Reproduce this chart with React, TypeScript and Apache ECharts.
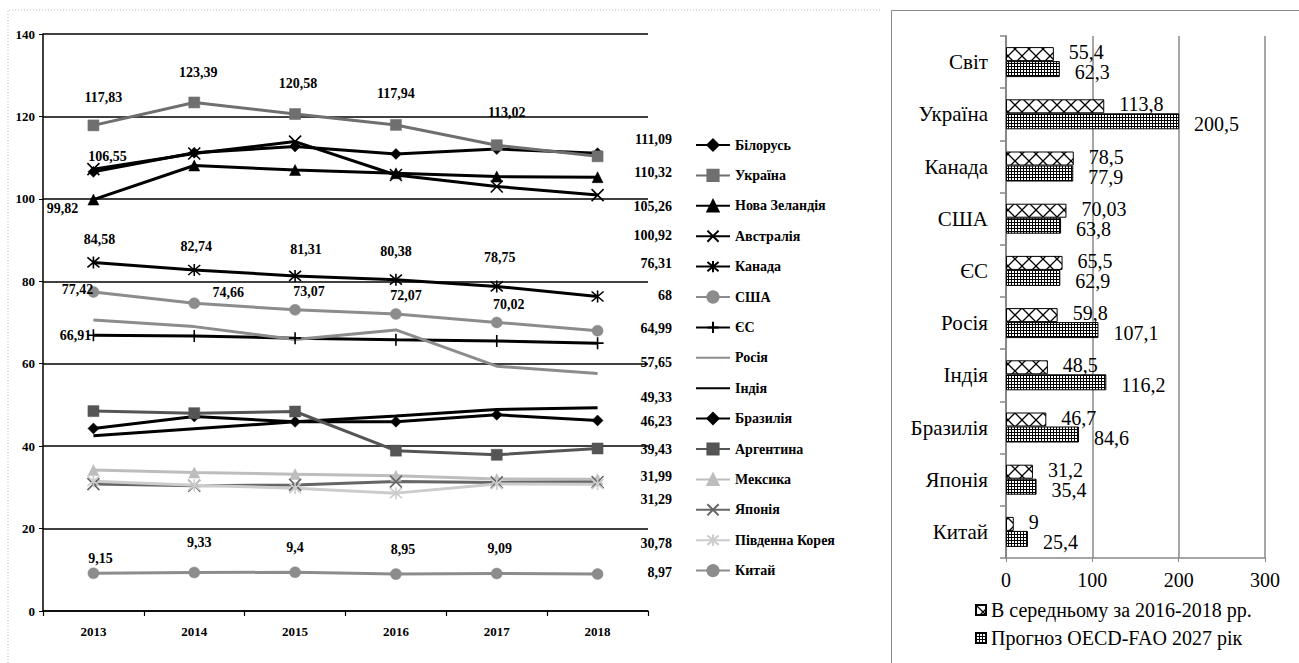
import React, { useEffect, useRef } from "react";
import * as echarts from "echarts";

// ---------- DATA ----------
const YEARS = ["2013", "2014", "2015", "2016", "2017", "2018"];

const BELARUS = [106.55, 111.2, 112.7, 110.9, 112.1, 111.09];
const UKRAINE = [117.83, 123.39, 120.58, 117.94, 113.02, 110.32];
const NEW_ZEALAND = [99.82, 108.1, 107.0, 106.2, 105.4, 105.26];
const AUSTRALIA = [107.2, 111.0, 113.9, 105.8, 103.0, 100.92];
const CANADA = [84.58, 82.74, 81.31, 80.38, 78.75, 76.31];
const USA = [77.42, 74.66, 73.07, 72.07, 70.02, 68];
const EU = [66.91, 66.7, 66.2, 65.8, 65.5, 64.99];
const RUSSIA = [70.6, 69.0, 65.9, 68.2, 59.4, 57.65];
const INDIA = [42.5, 44.2, 45.9, 47.3, 48.9, 49.33];
const BRAZIL = [44.3, 47.2, 45.9, 45.9, 47.6, 46.23];
const ARGENTINA = [48.5, 48.0, 48.4, 38.9, 37.9, 39.43];
const MEXICO = [34.2, 33.6, 33.2, 32.8, 32.0, 31.99];
const JAPAN = [30.8, 30.4, 30.6, 31.4, 31.2, 31.29];
const SOUTH_KOREA = [31.5, 30.5, 29.8, 28.6, 30.8, 30.78];
const CHINA = [9.15, 9.33, 9.4, 8.95, 9.09, 8.97];

const Y_TICKS = [0, 20, 40, 60, 80, 100, 120, 140];

const BAR_CATEGORIES = ["Світ", "Україна", "Канада", "США", "ЄС", "Росія", "Індія", "Бразилія", "Японія", "Китай"];
const AVG_2016_2018 = [55.4, 113.8, 78.5, 70.03, 65.5, 59.8, 48.5, 46.7, 31.2, 9];
const FORECAST_2027 = [62.3, 200.5, 77.9, 63.8, 62.9, 107.1, 116.2, 84.6, 35.4, 25.4];
const BAR_TICKS = [0, 100, 200, 300];

const BAR_NAME_1 = "В середньому за 2016-2018 рр.";
const BAR_NAME_2 = "Прогноз OECD-FAO 2027 рік";

// ---------- STYLES / LAYOUT ----------
const SERIF = "'Liberation Serif', 'Times New Roman', serif";
const P_X = "path://M0,0L10,10M10,0L0,10";
const P_AST = "path://M0,0L10,10M10,0L0,10M5,-1L5,11";
const P_PLUS = "path://M5,0L5,10M0,5L10,5";

type LS = { name: string; data: number[]; color: string; symbol: string; size: number; width: number; stroke?: boolean; labels?: Record<number, [number, number]> };

const LINES: LS[] = [
  { name: "Білорусь", data: BELARUS, color: "#000", symbol: "diamond", size: 11, width: 3, labels: { 0: [14, -15] } },
  { name: "Україна", data: UKRAINE, color: "#6f6f6f", symbol: "rect", size: 11, width: 3, labels: { 0: [10, -28], 1: [4, -30], 2: [3, -31], 3: [0, -31], 4: [10, -33] } },
  { name: "Нова Зеландія", data: NEW_ZEALAND, color: "#000", symbol: "triangle", size: 11, width: 3, labels: { 0: [-31, 9] } },
  { name: "Австралія", data: AUSTRALIA, color: "#000", symbol: P_X, size: 12, width: 3, stroke: true },
  { name: "Канада", data: CANADA, color: "#000", symbol: P_AST, size: 12, width: 3, stroke: true, labels: { 0: [6, -23], 1: [2, -23], 2: [11, -26], 3: [0, -28], 4: [3, -29] } },
  { name: "США", data: USA, color: "#8c8c8c", symbol: "circle", size: 11, width: 3, labels: { 0: [-16, -2], 1: [34, -11], 2: [14, -18], 3: [10, -18], 4: [12, -18] } },
  { name: "ЄС", data: EU, color: "#000", symbol: P_PLUS, size: 12, width: 3, stroke: true, labels: { 0: [-18, 0] } },
  { name: "Росія", data: RUSSIA, color: "#8c8c8c", symbol: "none", size: 0, width: 3 },
  { name: "Індія", data: INDIA, color: "#000", symbol: "none", size: 0, width: 3 },
  { name: "Бразилія", data: BRAZIL, color: "#000", symbol: "diamond", size: 11, width: 3 },
  { name: "Аргентина", data: ARGENTINA, color: "#555", symbol: "rect", size: 11, width: 3 },
  { name: "Мексика", data: MEXICO, color: "#bdbdbd", symbol: "triangle", size: 11, width: 3 },
  { name: "Японія", data: JAPAN, color: "#666", symbol: P_X, size: 12, width: 3, stroke: true },
  { name: "Південна Корея", data: SOUTH_KOREA, color: "#cccccc", symbol: P_AST, size: 12, width: 3, stroke: true },
  { name: "Китай", data: CHINA, color: "#8c8c8c", symbol: "circle", size: 11, width: 3, labels: { 0: [7, -15], 1: [5, -30], 2: [0, -25], 3: [7, -25], 4: [3, -25] } },
];

const SIDE_LABEL_Y = [139, 172, 206, 235, 263, 295, 328, 362, 397, 421, 449, 476, 499, 543, 572];

const fmt = (v: number) => String(v).replace(".", ",");

function makePattern(kind: number) {
  const c = document.createElement("canvas");
  if (kind === 1) {
    c.width = 14;
    c.height = 14;
    const g = c.getContext("2d")!;
    g.fillStyle = "#fff";
    g.fillRect(0, 0, 14, 14);
    g.strokeStyle = "#000";
    g.lineWidth = 1.3;
    g.beginPath();
    g.moveTo(0, 0);
    g.lineTo(14, 14);
    g.moveTo(14, 0);
    g.lineTo(0, 14);
    g.stroke();
  } else {
    c.width = 3;
    c.height = 3;
    const g = c.getContext("2d")!;
    g.fillStyle = "#000";
    g.fillRect(0, 0, 3, 3);
    g.fillStyle = "#fff";
    g.fillRect(1, 1, 2, 2);
  }
  return { image: c, repeat: "repeat", imageWidth: c.width, imageHeight: c.height } as any;
}

export default function App() {
  const ref = useRef<HTMLDivElement>(null);

  useEffect(() => {
    if (!ref.current) return;
    const chart = echarts.init(ref.current, undefined, { renderer: "svg" });

    const pat1 = makePattern(1);
    const pat2 = makePattern(2);

    const lineSeries = LINES.map((s) => ({
      type: "line",
      name: s.name,
      xAxisIndex: 0,
      yAxisIndex: 0,
      symbol: s.symbol,
      symbolSize: s.size,
      showAllSymbol: true,
      lineStyle: { color: s.color, width: s.width },
      itemStyle: { color: s.color, borderColor: s.color, borderWidth: s.stroke ? 1.6 : 0.5 },
      emphasis: { disabled: true },
      label: {
        show: false,
        position: "inside",
        color: "#000",
        fontFamily: SERIF,
        fontWeight: "bold",
        fontSize: 14,
        formatter: (p: any) => fmt(p.value),
      },
      data: s.data.map((v, i) => {
        const off = s.labels ? s.labels[i] : undefined;
        return off ? { value: v, label: { show: true, offset: off } } : { value: v };
      }),
    }));

    const barLabel = (dy: number) => ({
      show: true,
      position: "right",
      distance: 15,
      offset: [0, dy],
      color: "#000",
      fontFamily: SERIF,
      fontSize: 20,
      formatter: (p: any) => fmt(p.value),
    });

    const sideLabels = LINES.map((s, i) => ({
      type: "text",
      x: 672,
      y: SIDE_LABEL_Y[i],
      style: {
        text: fmt(s.data[s.data.length - 1]),
        align: "right",
        verticalAlign: "middle",
        fill: "#000",
        font: `bold 14px ${SERIF}`,
      },
    }));

    const legendLineData = LINES.map((s) =>
      s.symbol === "none"
        ? { name: s.name, itemStyle: { color: "rgba(0,0,0,0)", borderColor: "rgba(0,0,0,0)", borderWidth: 0 } }
        : { name: s.name }
    );

    chart.setOption({
      animation: false,
      backgroundColor: "#fff",
      grid: [
        { left: 43, top: 34, width: 605, height: 577 },
        { left: 1006, top: 36, width: 259, height: 522 },
      ],
      xAxis: [
        {
          gridIndex: 0,
          type: "category",
          data: YEARS,
          boundaryGap: true,
          axisLine: { lineStyle: { color: "#000", width: 1.5 } },
          axisTick: { show: true, length: 5, lineStyle: { color: "#000", width: 1.2 } },
          axisLabel: { color: "#000", fontFamily: SERIF, fontWeight: "bold", fontSize: 13, margin: 14 },
        },
        {
          gridIndex: 1,
          type: "value",
          min: BAR_TICKS[0],
          max: BAR_TICKS[BAR_TICKS.length - 1],
          interval: 100,
          axisLine: { show: true, lineStyle: { color: "#888", width: 1.5 } },
          axisTick: { show: true, length: 4, lineStyle: { color: "#888" } },
          splitLine: { show: true, lineStyle: { color: "#888", width: 1.5 } },
          axisLabel: { color: "#000", fontFamily: SERIF, fontSize: 20, margin: 12 },
        },
      ],
      yAxis: [
        {
          gridIndex: 0,
          type: "value",
          min: Y_TICKS[0],
          max: Y_TICKS[Y_TICKS.length - 1],
          interval: 20,
          axisLine: { show: true, lineStyle: { color: "#000", width: 1.5 } },
          axisTick: { show: true, length: 4, lineStyle: { color: "#000" } },
          splitLine: { show: true, lineStyle: { color: "#000", width: 1.5 } },
          axisLabel: { color: "#000", fontFamily: SERIF, fontWeight: "bold", fontSize: 13, margin: 8 },
        },
        {
          gridIndex: 1,
          type: "category",
          data: BAR_CATEGORIES,
          inverse: true,
          axisLine: { show: true, lineStyle: { color: "#888", width: 2 } },
          axisTick: { show: true, length: 6, lineStyle: { color: "#888", width: 1.5 } },
          axisLabel: { color: "#000", fontFamily: SERIF, fontSize: 21, margin: 18 },
        },
      ],
      legend: [
        {
          orient: "vertical",
          left: 695,
          top: 138,
          padding: 0,
          itemWidth: 34,
          itemHeight: 14,
          itemGap: 16.4,
          selectedMode: false,
          textStyle: { color: "#000", fontFamily: SERIF, fontWeight: "bold", fontSize: 14 },
          data: legendLineData,
        },
        {
          orient: "vertical",
          left: 975,
          top: 600,
          padding: 0,
          itemWidth: 10,
          itemHeight: 10,
          itemGap: 8,
          icon: "rect",
          selectedMode: false,
          textStyle: { color: "#000", fontFamily: SERIF, fontSize: 20 },
          data: [BAR_NAME_1, BAR_NAME_2],
        },
      ],
      graphic: [
        {
          type: "polyline",
          shape: { points: [[8, 663], [8, 10], [882, 10]] },
          style: { stroke: "#bbb", lineWidth: 1, lineDash: [1, 2], fill: "none" },
          silent: true,
        },
        {
          type: "rect",
          shape: { x: 891.5, y: 10.5, width: 420, height: 670 },
          style: { stroke: "#8a8a8a", lineWidth: 1, fill: "none" },
          silent: true,
        },
        ...sideLabels,
      ],
      series: [
        ...lineSeries,
        {
          type: "bar",
          name: BAR_NAME_1,
          xAxisIndex: 1,
          yAxisIndex: 1,
          data: AVG_2016_2018,
          barWidth: 14,
          barGap: "0%",
          itemStyle: { color: pat1, borderColor: "#000", borderWidth: 1 },
          emphasis: { disabled: true },
          label: barLabel(-2),
        },
        {
          type: "bar",
          name: BAR_NAME_2,
          xAxisIndex: 1,
          yAxisIndex: 1,
          data: FORECAST_2027,
          barWidth: 16,
          barGap: "0%",
          itemStyle: { color: pat2, borderColor: "#000", borderWidth: 1 },
          emphasis: { disabled: true },
          label: barLabel(3),
        },
      ],
    });

    return () => chart.dispose();
  }, []);

  return <div ref={ref} style={{ position: "fixed", left: 0, top: 0, width: 1299, height: 663 }} />;
}
